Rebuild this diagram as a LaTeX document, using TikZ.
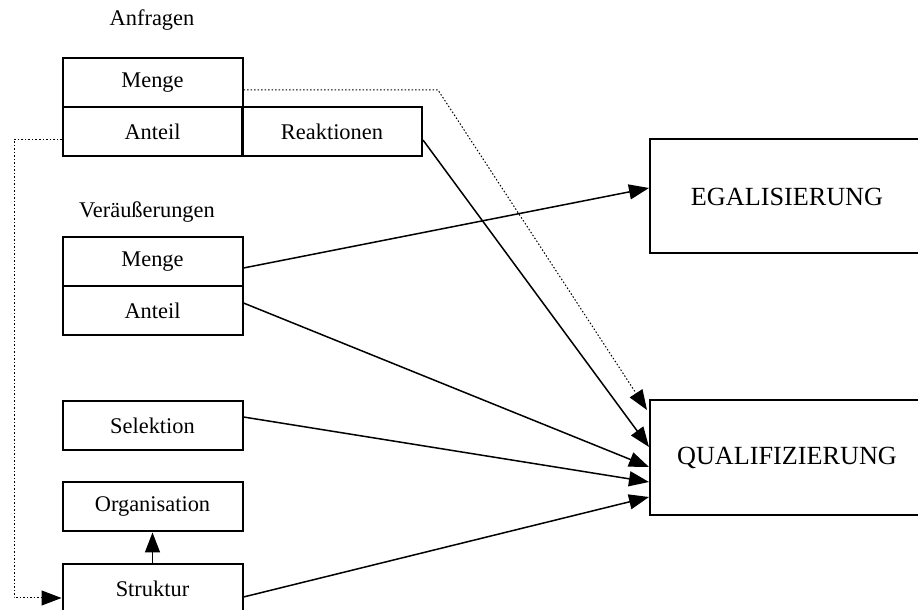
\documentclass[tikz,border=0pt]{standalone}
\usepackage{fontspec}
\setmainfont{Liberation Serif}
\usetikzlibrary{arrows.meta}

\begin{document}
\begin{tikzpicture}[x=0.5pt, y=-0.5pt,
	every node/.style={rectangle, draw=black, line width=1pt, minimum width=90pt, minimum height=24.5pt, inner sep=0pt, font=\fontsize{11.2pt}{13pt}\selectfont},
	gross/.style={minimum width=163pt, minimum height=57pt, font=\fontsize{13.1pt}{15pt}\selectfont},
	titel/.style={draw=none, minimum width=0pt, minimum height=0pt},
	every path/.style={draw=black, line width=0.75pt},
	pfeil/.style={-{Triangle[length=10pt,width=7.5pt]}},
	punkte/.style={densely dotted, line width=0.5pt}]
			\useasboundingbox[draw=none] (0,0) rectangle (918,610);
			\node[titel] (anfragen) at (152,20){Anfragen};
			\node (menge1) at (152.5,82.5){Menge};
			\node (anteil1) at (152.5,131.5){Anteil};
			\node (reaktionen) at (332,131.5){Reaktionen};
			\node[titel] (veraeusserungen) at (147,212){Veräußerungen};
			\node (menge2) at (152.5,262){Menge};
			\node (anteil2) at (152.5,311){Anteil};
			\node (selektion) at (152.5,425.5){Selektion};
			\node (organisation) at (152.5,507){Organisation};
			\node (struktur) at (152.5,588.5){Struktur};
			% rechte Kaesten laufen ueber den Rand hinaus
			\node[gross] (egal) at (813,196.5){EGALISIERUNG\hspace*{26pt}};
			\node[gross, minimum height=57.5pt] (quali) at (813,457.5){QUALIFIZIERUNG\hspace*{26pt}};
			\coordinate (knick) at (438,90);
			\coordinate (links) at (14,140);
			
			\path ([yshift=-3pt]menge2.east) edge[pfeil] ([yshift=4.25pt]egal.west);
			\path ([yshift=-4.25pt]reaktionen.east) edge[pfeil] ([yshift=5.25pt]quali.west);
			\path ([yshift=4pt]anteil2.east) edge[pfeil] ([yshift=-4.75pt]quali.west);
			\path ([yshift=4.25pt]selektion.east) edge[pfeil] ([yshift=-12.25pt]quali.west);
			\path ([yshift=-4.25pt]struktur.east) edge[pfeil] ([yshift=-19.75pt]quali.west);
			\path (struktur) edge[pfeil] (organisation);
			\draw[punkte, pfeil] ([yshift=-3.75pt]menge1.east) -- (knick) -- ([xshift=-1pt,yshift=23.75pt]quali.west);
			\draw[punkte, pfeil] ([yshift=-4.25pt]anteil1.west) -- (links) |- ([yshift=-4.75pt]struktur.west);
			\end{tikzpicture}
\end{document}
